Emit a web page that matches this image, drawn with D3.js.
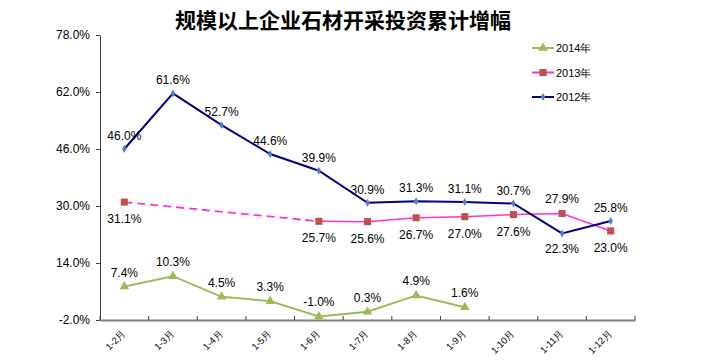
<!DOCTYPE html>
<html><head><meta charset="utf-8">
<script src="https://cdn.jsdelivr.net/npm/d3@7"></script>
<style>body{margin:0;background:#fff}</style>
</head><body><div id="chart"></div>
<script>
const categories = ["1-2月","1-3月","1-4月","1-5月","1-6月","1-7月","1-8月","1-9月","1-10月","1-11月","1-12月"];
const s2012 = [46.0, 61.6, 52.7, 44.6, 39.9, 30.9, 31.3, 31.1, 30.7, 22.3, 25.8];
const s2013 = [31.1, null, null, null, 25.7, 25.6, 26.7, 27.0, 27.6, 27.9, 23.0];
const s2014 = [7.4, 10.3, 4.5, 3.3, -1.0, 0.3, 4.9, 1.6, null, null, null];
const yTicks = [-2, 14, 30, 46, 62, 78];
// label placement: 1 = above, -1 = below
const pos2012 = [1,1,1,1,1,1,1,1,1,-1,1];
const pos2013 = [-1,0,0,0,-1,-1,-1,-1,-1,1,-1];

const width = 710, height = 363, margin = {top: 35, right: 75, bottom: 43, left: 100};
const font = "'Liberation Sans', Arial, sans-serif";

const svg = d3.select("#chart").append("svg").attr("width", width).attr("height", height);

svg.append("text").attr("x", 343).attr("y", 28).attr("text-anchor", "middle")
  .attr("font-family", "'Noto Sans CJK SC', sans-serif").attr("font-weight", "bold")
  .attr("font-size", 21).text("规模以上企业石材开采投资累计增幅");

const x = d3.scaleBand().domain(categories).range([margin.left, width - margin.right]);
const y = d3.scaleLinear().domain([-2, 78]).range([height - margin.bottom, margin.top]);
const cx = i => x(categories[i]) + x.bandwidth() / 2;

// axes
const yAxis = svg.append("g").attr("transform", `translate(${margin.left},0)`)
  .call(d3.axisLeft(y).tickValues(yTicks).tickFormat(d => d.toFixed(1) + "%").tickSize(4).tickSizeOuter(0));
yAxis.select(".domain").attr("stroke", "#404040");
yAxis.selectAll("line").attr("stroke", "#404040");
yAxis.selectAll("text").attr("font-family", font).attr("font-size", 12).attr("fill", "#000").attr("x", -10);

const xAxis = svg.append("g").attr("transform", `translate(0,${y(-2)})`)
  .call(d3.axisBottom(x).tickSize(0).tickFormat(""));
xAxis.select(".domain").attr("stroke", "#808080").attr("stroke-width", 2);
xAxis.selectAll(".tick").remove();
const bounds = d3.range(categories.length + 1).map(i => margin.left + i * x.step());
svg.append("g").selectAll("line").data(bounds).join("line")
  .attr("x1", d => d).attr("x2", d => d).attr("y1", y(-2) - 4).attr("y2", y(-2))
  .attr("stroke", "#404040");
svg.append("g").selectAll("text").data(categories).join("text")
  .attr("transform", (d, i) => `translate(${cx(i) + 2},${y(-2) + 14}) rotate(-45)`)
  .attr("text-anchor", "end").attr("font-family", font).attr("font-size", 9.5).text(d => d);

const line = d3.line().defined(d => d.v != null).x(d => cx(d.i)).y(d => y(d.v));
const pts = arr => arr.map((v, i) => ({i, v}));

// 2013 dashed gap
svg.append("line").attr("x1", cx(0)).attr("y1", y(s2013[0])).attr("x2", cx(4)).attr("y2", y(s2013[4]))
  .attr("stroke", "#FF33CC").attr("stroke-width", 1.8).attr("stroke-dasharray", "8,5");
svg.append("path").datum(pts(s2013)).attr("fill", "none").attr("stroke", "#FF33CC")
  .attr("stroke-width", 1.5).attr("d", line);
svg.append("path").datum(pts(s2012)).attr("fill", "none").attr("stroke", "#000080")
  .attr("stroke-width", 2).attr("d", line);
svg.append("path").datum(pts(s2014)).attr("fill", "none").attr("stroke", "#9BBB59")
  .attr("stroke-width", 2).attr("d", line);

const sq = d3.symbol().type(d3.symbolSquare).size(50);
const tri = d3.symbol().type(d3.symbolTriangle).size(40);
const dia = d3.symbol().type(d3.symbolDiamond).size(18);

svg.append("g").selectAll("path").data(pts(s2013).filter(d => d.v != null)).join("path")
  .attr("d", sq).attr("fill", "#C0504D").attr("transform", d => `translate(${cx(d.i)},${y(d.v)})`);
svg.append("g").selectAll("path").data(pts(s2012)).join("path")
  .attr("d", dia).attr("fill", "#4F81BD").attr("transform", d => `translate(${cx(d.i)},${y(d.v)})`);
svg.append("g").selectAll("path").data(pts(s2014).filter(d => d.v != null)).join("path")
  .attr("d", tri).attr("fill", "#9BBB59").attr("transform", d => `translate(${cx(d.i)},${y(d.v)})`);

// data labels
function labels(arr, posArr, above, below) {
  svg.append("g").selectAll("text").data(pts(arr).filter(d => d.v != null)).join("text")
    .attr("x", d => cx(d.i)).attr("y", d => y(d.v) + (posArr[d.i] > 0 ? above : below))
    .attr("text-anchor", "middle").attr("font-family", font).attr("font-size", 12).attr("fill", "#000")
    .text(d => d.v.toFixed(1) + "%");
}
labels(s2012, pos2012, -9, 20);
labels(s2013, pos2013, -10, 21);
labels(s2014, s2014.map(() => 1), -10, 20);

// legend
const legend = [
  {name: "2014年", color: "#9BBB59", mc: "#9BBB59", sym: tri},
  {name: "2013年", color: "#FF33CC", mc: "#C0504D", sym: sq},
  {name: "2012年", color: "#000080", mc: "#4F81BD", sym: dia}
];
const lg = svg.append("g").attr("transform", "translate(532,48)");
legend.forEach((d, i) => {
  const g = lg.append("g").attr("transform", `translate(0,${i * 24.5})`);
  g.append("line").attr("x1", 0).attr("x2", 22).attr("stroke", d.color).attr("stroke-width", 2);
  g.append("path").attr("d", d.sym).attr("fill", d.mc).attr("transform", "translate(11,0)");
  g.append("text").attr("x", 24).attr("y", 4).attr("font-family", font).attr("font-size", 11).text(d.name);
});
</script>
</body></html>
